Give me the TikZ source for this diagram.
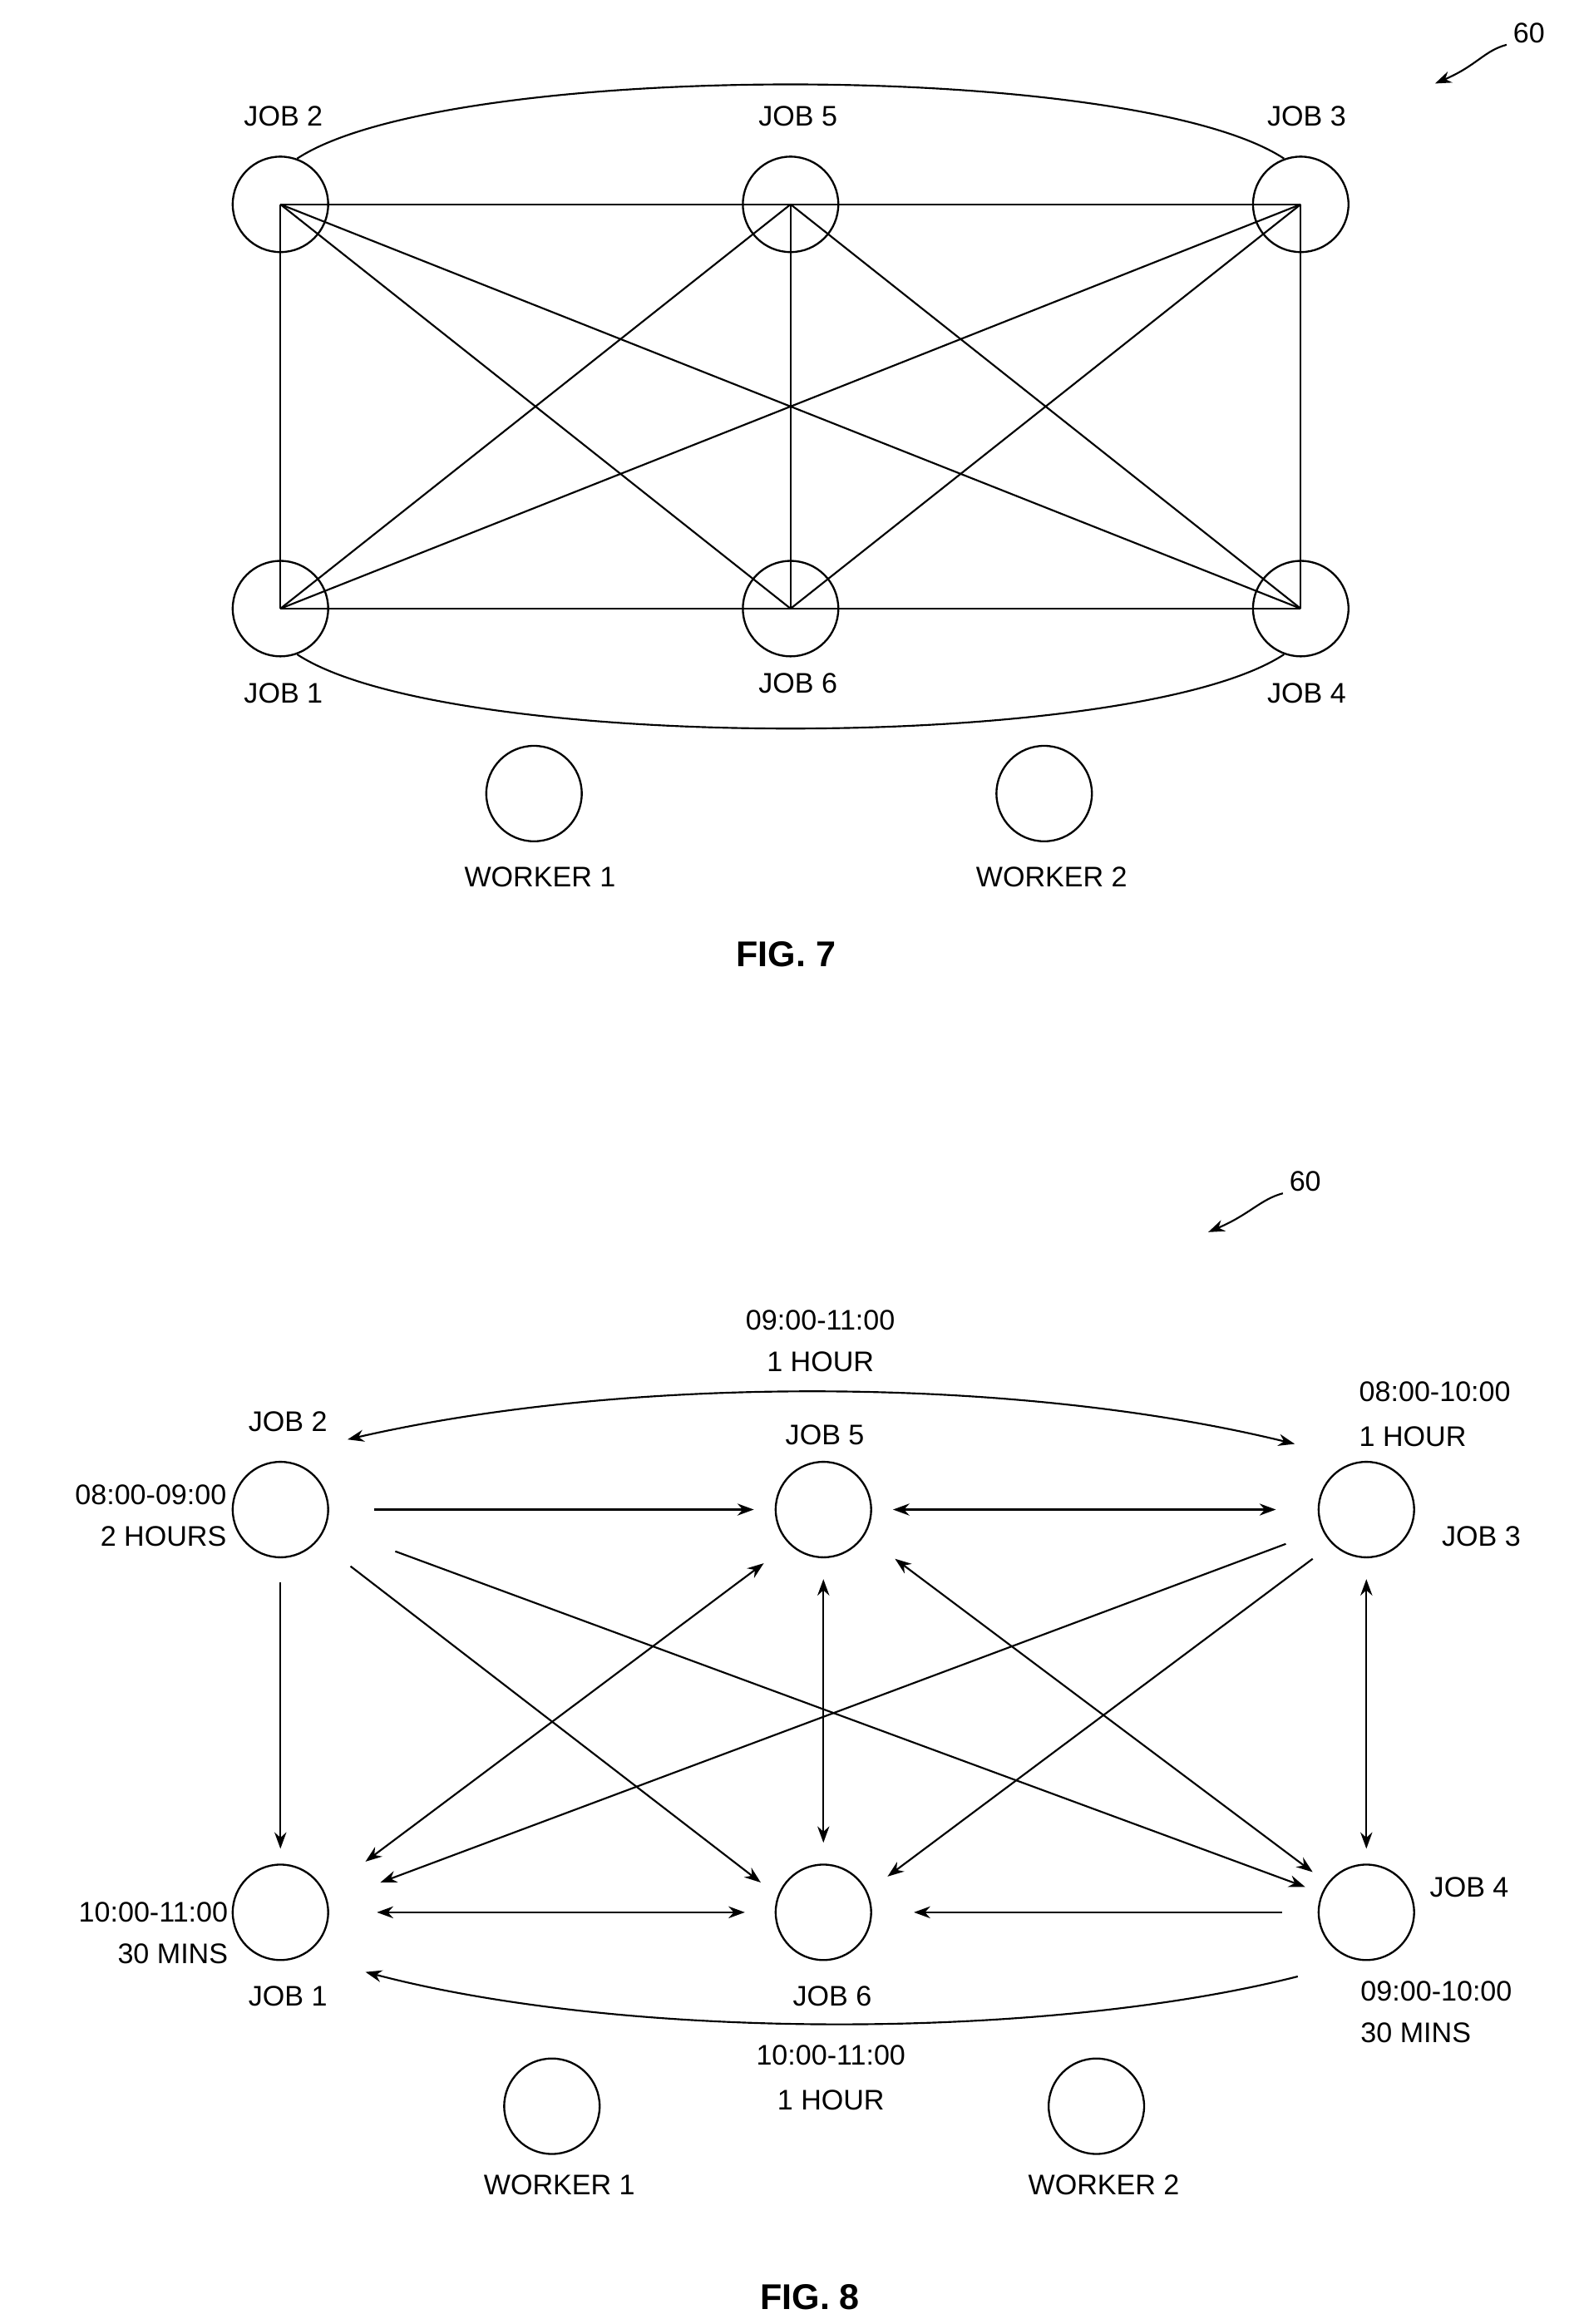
\documentclass[tikz,border=0pt]{standalone}
\usepackage{fontspec}
\setmainfont{Liberation Sans}
\usetikzlibrary{arrows.meta}
\begin{document}
\begin{tikzpicture}[x=1pt,y=-1pt,
  c/.style={circle,draw,line width=1.3pt,minimum size=64pt,inner sep=0},
  t/.style={font=\fontsize{19}{23}\selectfont,inner sep=0},
  e/.style={line width=1.2pt},
  a/.style={line width=1.2pt,-{Stealth[length=11pt,width=8pt]}},
  d/.style={line width=1.2pt,{Stealth[length=11pt,width=8pt]}-{Stealth[length=11pt,width=8pt]}},
  fig/.style={font=\fontsize{24}{28}\selectfont\bfseries}]
\useasboundingbox (0,0) rectangle (1058,1558);
% FIG 7
\node[c] (a2) at (188,137) {}; \node[c] (a5) at (530,137) {}; \node[c] (a3) at (872,137) {};
\node[c] (a1) at (188,408) {}; \node[c] (a6) at (530,408) {}; \node[c] (a4) at (872,408) {};
\foreach \p/\q in {a2/a5,a5/a3,a1/a6,a6/a4,a2/a1,a5/a6,a3/a4,a2/a6,a2/a4,a5/a1,a5/a4,a3/a1,a3/a6}
  \draw[e] (\p.center) -- (\q.center);
\draw[e] (a2.70) .. controls (300,40) and (760,40) .. (a3.110);
\draw[e] (a1.-70) .. controls (300,505) and (760,505) .. (a4.-110);
\node[t] at (190,78) {JOB 2}; \node[t] at (535,78) {JOB 5}; \node[t] at (876,78) {JOB 3};
\node[t] at (190,465) {JOB 1}; \node[t] at (535,458) {JOB 6}; \node[t] at (876,465) {JOB 4};
\node[c] (w1) at (358,532) {}; \node[c] (w2) at (700,532) {};
\node[t] at (362,588) {WORKER 1}; \node[t] at (705,588) {WORKER 2};
\node[fig] at (527,640) {FIG. 7};
\node[t] (n7) at (1025,22) {60};
\coordinate (n7t) at (962,56);
\draw[a] (1010,30) .. controls (995,34) and (990,44) .. (n7t);
% FIG 8
\node[c] (b2) at (188,1012) {}; \node[c] (b5) at (552,1012) {}; \node[c] (b3) at (916,1012) {};
\node[c] (b1) at (188,1282) {}; \node[c] (b6) at (552,1282) {}; \node[c] (b4) at (916,1282) {};
\draw[a] ([xshift=30pt]b2.east) -- ([xshift=-14pt]b5.west);
\draw[d] ([xshift=14pt]b5.east) -- ([xshift=-28pt]b3.west);
\draw[a] ([yshift=-16pt]b2.south) -- ([yshift=10pt]b1.north);
\draw[d] ([yshift=-14pt]b5.south) -- ([yshift=14pt]b6.north);
\draw[d] ([yshift=-14pt]b3.south) -- ([yshift=10pt]b4.north);
\draw[d] ([xshift=32pt]b1.east) -- ([xshift=-20pt]b6.west);
\draw[a] ([xshift=-24pt]b4.west) -- ([xshift=28pt]b6.east);
\draw[a] (235,1050) -- (510,1262);
\draw[a] (265,1040) -- (875,1265);
\draw[d] (245,1248) -- (512,1048);
\draw[a] (862,1035) -- (255,1262);
\draw[a] (880,1045) -- (595,1258);
\draw[d] (600,1045) -- (880,1255);
\draw[d] (233,965) .. controls (420,922) and (680,922) .. (868,968);
\draw[a] (870,1325) .. controls (700,1368) and (420,1368) .. (245,1322);
\node[t] at (550,885) {09:00-11:00}; \node[t] at (550,913) {1 HOUR};
\node[t,anchor=west] at (911,933) {08:00-10:00}; \node[t,anchor=west] at (911,963) {1 HOUR};
\node[t] at (193,953) {JOB 2}; \node[t] at (553,962) {JOB 5}; \node[t] at (993,1030) {JOB 3};
\node[t] at (193,1338) {JOB 1}; \node[t] at (558,1338) {JOB 6}; \node[t] at (985,1265) {JOB 4};
\node[t,anchor=east] at (152,1002) {08:00-09:00}; \node[t,anchor=east] at (152,1030) {2 HOURS};
\node[t,anchor=east] at (153,1282) {10:00-11:00}; \node[t,anchor=east] at (153,1310) {30 MINS};
\node[t,anchor=west] at (912,1335) {09:00-10:00}; \node[t,anchor=west] at (912,1363) {30 MINS};
\node[t] at (557,1378) {10:00-11:00}; \node[t] at (557,1408) {1 HOUR};
\node[c] (w3) at (370,1412) {}; \node[c] (w4) at (735,1412) {};
\node[t] at (375,1465) {WORKER 1}; \node[t] at (740,1465) {WORKER 2};
\node[fig] at (543,1540) {FIG. 8};
\node[t] (n8) at (875,792) {60};
\coordinate (n8t) at (810,826);
\draw[a] (860,800) .. controls (845,804) and (838,814) .. (n8t);
\end{tikzpicture}
\end{document}
